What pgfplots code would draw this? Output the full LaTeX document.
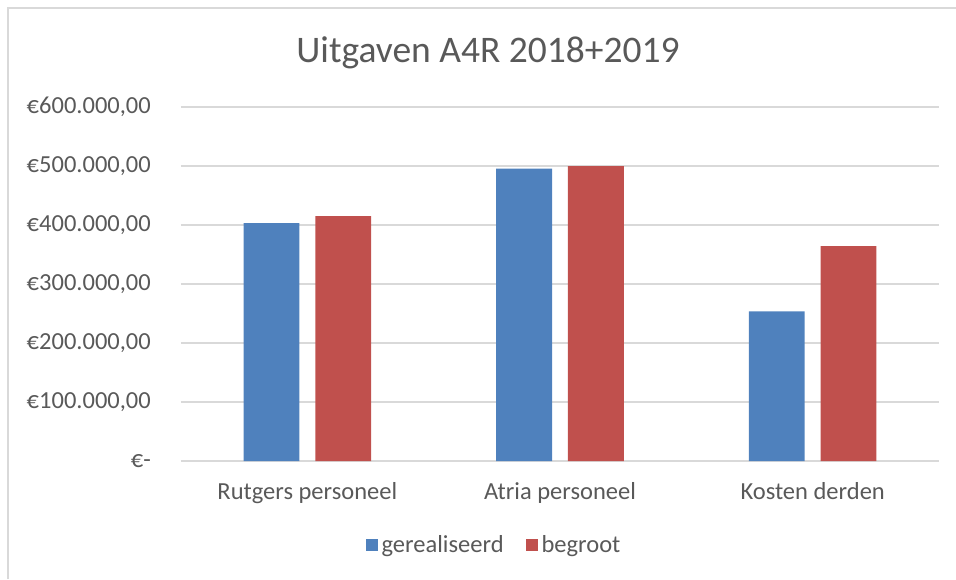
\documentclass[border=0pt]{standalone}
\usepackage{pgfplots}
\pgfplotsset{compat=1.18}
\usepackage{fontspec}
\setmainfont{Carlito}
\definecolor{cblue}{HTML}{4F81BD}
\definecolor{cred}{HTML}{C0504D}
\definecolor{ctext}{HTML}{595959}
\definecolor{cgrid}{HTML}{D9D9D9}
\begin{document}
\begin{tikzpicture}[x=1pt,y=1pt]
\path[use as bounding box] (0,0) rectangle (956,579);
\draw[cgrid,line width=1.5pt] (8,0) -- (8,571) -- (956,571);
\begin{axis}[
  at={(181pt,118pt)}, anchor=south west,
  scale only axis, width=758pt, height=354pt,
  xmin=-0.5, xmax=2.5, ymin=0, ymax=600000,
  ybar, bar width=0.221,
  axis x line*=bottom, axis y line*=left,
  x axis line style={cgrid, line width=1.2pt, -},
  y axis line style={draw=none},
  ymajorgrids, grid style={cgrid, line width=1.2pt},
  xtick={0,1,2}, xticklabels={Rutgers personeel, Atria personeel, Kosten derden},
  major tick length=0pt,
  scaled y ticks=false,
  ytick={0,100000,200000,300000,400000,500000,600000},
  yticklabels={€-\hspace{11pt}, €100.000{,}00, €200.000{,}00, €300.000{,}00, €400.000{,}00, €500.000{,}00, €600.000{,}00},
  tick label style={font=\fontsize{24.5}{28}\selectfont, text=ctext},
  yticklabel style={anchor=east, inner sep=0pt, xshift=-30pt},
  xticklabel style={anchor=north, inner sep=0pt, yshift=-21pt},
  title={Uitgaven A4R 2018+2019},
  title style={at={(0.405,1.136)}, anchor=center, font=\fontsize{37.5}{42}\selectfont, text=ctext},
  legend columns=2,
  legend style={at={(0.4116,-0.237)}, anchor=center, draw=none, fill=none,
    font=\fontsize{24.5}{28}\selectfont, text=ctext,
    /tikz/every even column/.append style={column sep=22pt},
    inner sep=0pt, nodes={inner sep=0pt}},
  legend image code/.code={\fill[#1] (0pt,-6pt) rectangle (12pt,6pt); \path (16pt,0pt);},
  clip=false,
]
\addplot[fill=cblue, draw=none, bar shift=-0.142] coordinates {(0,403000) (1,495500) (2,253700)};
\addplot[fill=cred, draw=none, bar shift=0.142] coordinates {(0,415000) (1,500000) (2,364000)};
\legend{gerealiseerd, begroot}
\end{axis}
\end{tikzpicture}
\end{document}
